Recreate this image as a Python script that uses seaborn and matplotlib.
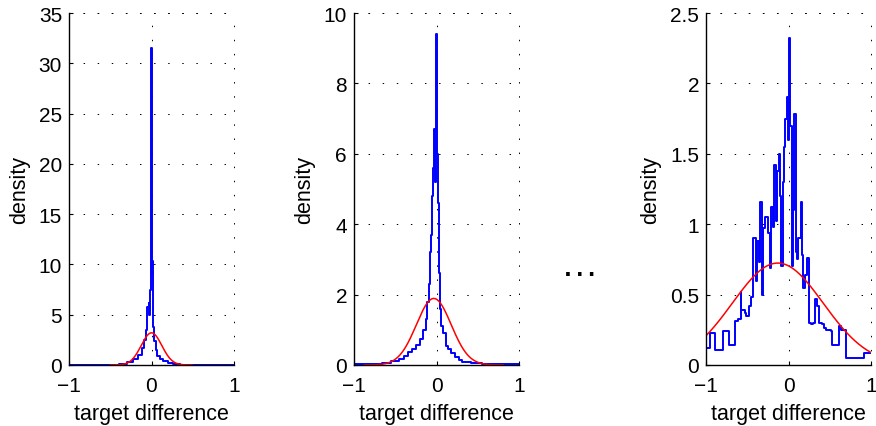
import numpy as np
import seaborn as sns
import matplotlib.pyplot as plt

# histogram steps: bin edges and density per bin
edges_a = [-1.00, -0.40, -0.30, -0.22, -0.16, -0.12, -0.09, -0.07, -0.05, -0.035, -0.025,
           -0.015, -0.010, -0.005, 0.003, 0.008, 0.013, 0.02, 0.035, 0.05, 0.07, 0.10,
           0.14, 0.20, 0.26, 0.35, 1.00]
dens_a = [0.02, 0.1, 0.3, 0.6, 1.0, 1.7, 2.5, 3.5, 5.8, 6.2, 5.0,
          7.5, 12.3, 31.5, 9.0, 10.3, 5.5, 3.8, 2.4, 1.5, 0.9,
          0.6, 0.35, 0.2, 0.08, 0.02]

edges_b = [-1.00, -0.66, -0.55, -0.45, -0.40, -0.35, -0.30, -0.25, -0.20, -0.16, -0.13,
           -0.11, -0.09, -0.08, -0.07, -0.06, -0.05, -0.04, -0.03, -0.02, -0.01, 0.005,
           0.015, 0.025, 0.035, 0.045, 0.06, 0.08, 0.11, 0.14, 0.18, 0.22, 0.27, 0.31,
           0.42, 0.55, 0.70, 1.00]
dens_b = [0.02, 0.05, 0.10, 0.17, 0.25, 0.36, 0.45, 0.58, 0.75, 1.0,
          1.3, 1.8, 2.3, 3.2, 3.7, 4.3, 4.8, 5.6, 6.7, 5.2, 9.4,
          6.0, 4.6, 4.1, 2.6, 1.6, 1.1, 0.9, 0.55, 0.45, 0.33, 0.22, 0.15,
          0.08, 0.05, 0.03, 0.02]

edges_c = [-1.00, -0.95, -0.89, -0.80, -0.72, -0.65, -0.61, -0.58, -0.57, -0.53, -0.51,
           -0.48, -0.45, -0.43, -0.40, -0.38, -0.36, -0.35, -0.32, -0.31, -0.28, -0.25,
           -0.23, -0.21, -0.19, -0.17, -0.15, -0.14, -0.12, -0.10, -0.09, -0.07, -0.06,
           -0.04, -0.02, -0.01, 0.01, 0.02, 0.04, 0.06, 0.07, 0.09, 0.10, 0.12, 0.15,
           0.16, 0.18, 0.20, 0.23, 0.25, 0.27, 0.30, 0.32, 0.35, 0.37, 0.40, 0.43,
           0.45, 0.51, 0.53, 0.56, 0.61, 0.64, 0.70, 0.82, 0.91, 1.00]
dens_c = [0.12, 0.225, 0.11, 0.24, 0.14, 0.315, 0.327, 0.516, 0.39, 0.37,
          0.35, 0.42, 0.48, 0.90, 0.60, 0.88, 0.73, 1.16, 0.50, 0.97, 1.05,
          0.94, 0.69, 1.12, 0.98, 1.42, 1.02, 1.38, 1.50, 1.20, 0.70, 1.30,
          1.55, 1.75, 1.90, 1.60, 2.32, 1.70, 0.70, 1.10, 1.78, 0.80, 0.75,
          0.90, 1.16, 0.78, 0.55, 0.64, 0.76, 0.30, 0.29, 0.30, 0.47, 0.42,
          0.30, 0.29, 0.26, 0.25, 0.24, 0.145, 0.145, 0.28, 0.25, 0.05, 0.05, 0.085]

# gaussian fit drawn in red: mean, std
fit_mean = [0.0, -0.033, -0.13]
fit_std = [0.1247, 0.211, 0.551]

y_max = [35, 10, 2.5]
y_step = [5, 2, 0.5]

sns.set_theme(style="white")
plt.rcParams['font.family'] = ['Liberation Sans', 'DejaVu Sans']

fig = plt.figure(figsize=(8.76, 4.27), dpi=100)
lefts = [69 / 876, 354 / 876, 706 / 876]
panels = [(edges_a, dens_a), (edges_b, dens_b), (edges_c, dens_c)]
dots = (0, (1.5, 13))

for i, (ed, de) in enumerate(panels):
    ax = fig.add_axes([lefts[i], 61 / 427, 165 / 876, 352 / 427])
    sns.lineplot(x=ed, y=de + [de[-1]], drawstyle="steps-post", color="#0000ff",
                 lw=1.4, ax=ax)
    lo = max(-1, fit_mean[i] - 4 * fit_std[i])
    hi = min(1, fit_mean[i] + 4 * fit_std[i])
    xs = np.linspace(lo, hi, 300)
    ys = np.exp(-0.5 * ((xs - fit_mean[i]) / fit_std[i]) ** 2) / (fit_std[i] * np.sqrt(2 * np.pi))
    sns.lineplot(x=xs, y=ys, color="#ff0000", lw=1.1, ax=ax)

    ax.set_xlim(-1, 1)
    ax.set_ylim(0, y_max[i])
    ax.set_xticks([-1, 0, 1])
    ax.set_xticklabels(["\u22121", "0", "1"])
    yt = np.arange(0, y_max[i] + 1e-9, y_step[i])
    ax.set_yticks(yt)
    ax.set_yticklabels(["%g" % v for v in yt])
    ax.grid(True, color="black", lw=0.7, linestyle=dots)
    ax.axhline(y_max[i], color="black", lw=0.7, linestyle=dots, clip_on=False)
    ax.axvline(1, color="black", lw=0.7, linestyle=dots, clip_on=False)
    for s in ["top", "right"]:
        ax.spines[s].set_visible(False)
    for s in ["left", "bottom"]:
        ax.spines[s].set_color("black")
        ax.spines[s].set_linewidth(1.0)
    ax.tick_params(direction="in", length=3, width=0.8, color="black", labelcolor="black",
                   labelsize=15, pad=5, left=True, bottom=True)
    ax.tick_params(axis="x", pad=8)
    ax.set_xlabel("target difference", fontsize=15.5, labelpad=6, color="black")
    ax.set_ylabel("density", fontsize=15.5, labelpad=6, color="black")
    ax.set_facecolor("white")

fig.text(580 / 876, 1 - 276 / 427, "\u2026", fontsize=27, ha="center", va="baseline",
         color="black")

fig.savefig("out.png", dpi=100, facecolor="white")
